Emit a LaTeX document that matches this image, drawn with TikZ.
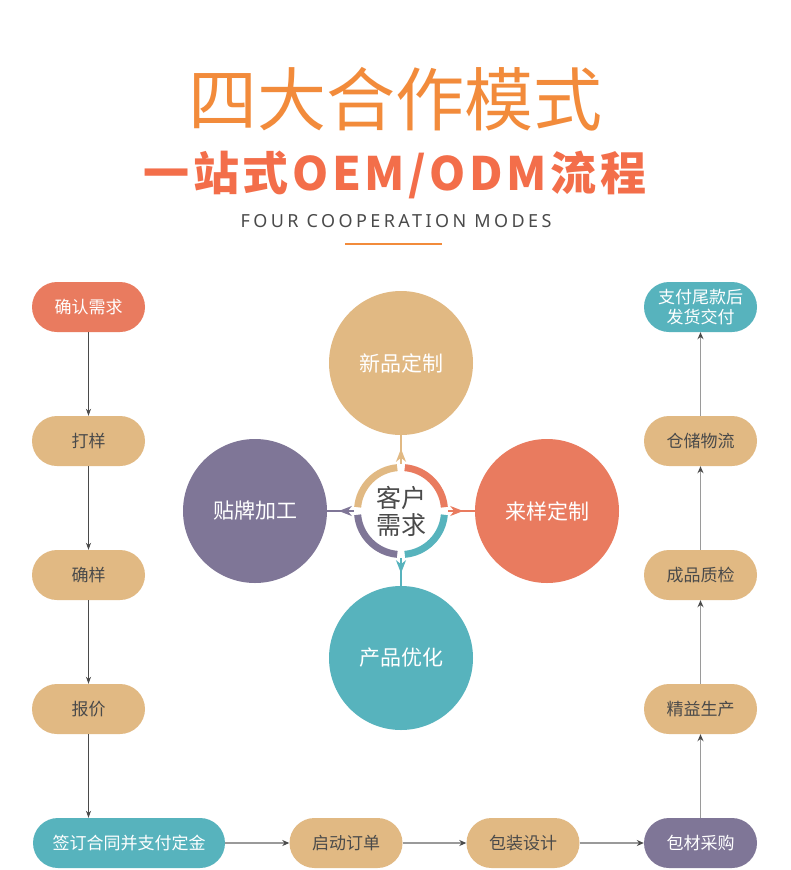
\documentclass[tikz,border=0pt]{standalone}
\usepackage{fontspec}
\setmainfont{Noto Sans CJK SC}
\newfontfamily\enfont[LetterSpace=19]{Noto Sans}
\usetikzlibrary{arrows.meta}

\definecolor{cTitle}{HTML}{F28B3B}
\definecolor{cSub}{HTML}{F36E4A}
\definecolor{cRed}{HTML}{E97B5F}
\definecolor{cTan}{HTML}{E1B983}
\definecolor{cTeal}{HTML}{57B3BD}
\definecolor{cPurple}{HTML}{7F7697}
\definecolor{cText}{HTML}{4A4A4A}
\definecolor{cLine}{HTML}{4A4A4A}
\definecolor{cGray}{HTML}{9A9A9A}

\tikzset{
  pill/.style={rounded corners=25pt, minimum width=113pt, minimum height=50pt,
    inner sep=0pt, align=center, text=cText, font=\fontsize{17}{20}\selectfont},
  mode/.style={circle, minimum size=144pt, inner sep=0pt, text=white,
    font=\fontsize{21}{24}\selectfont},
  flowdown/.style={draw=cLine, line width=0.8pt, -{Stealth[length=7pt,width=5pt]}},
  flowgray/.style={draw=cGray, line width=1.5pt, -{Stealth[length=7pt,width=6pt,color=cLine]}},
  hub/.style={line width=1.5pt, -{Stealth[length=13pt,width=10pt,inset=4pt]}},
}

\begin{document}
\begin{tikzpicture}[x=1pt, y=1pt]
  \useasboundingbox[fill=white] (0,0) rectangle (790,-870);

  % 标题
  \node[text=cTitle, font=\fontsize{69}{70}\selectfont] (t1) at (395,-99) {四大合作模式};
  \node[text=cSub, font=\fontsize{46}{48}\selectfont\bfseries\addfontfeature{LetterSpace=8}] (t2) at (395,-175) {一站式OEM/ODM流程};
  \node[text=cText, font=\enfont\fontsize{18}{20}\selectfont] (t3) at (396,-221) {FOUR COOPERATION MODES};
  \draw[cTitle, line width=2pt] (345,-244) -- (442,-244);

  % 四种模式
  \node[mode, fill=cTan] (xp) at (401,-363) {新品定制};
  \node[mode, fill=cRed] (ly) at (547,-511) {来样定制};
  \node[mode, fill=cTeal] (yh) at (401,-658) {产品优化};
  \node[mode, fill=cPurple] (tp) at (255,-511) {贴牌加工};

  % 中心 客户需求
  \node[circle, minimum size=94pt, inner sep=0pt, align=center, text=cText,
    font=\fontsize{25}{27}\selectfont] (kh) at (401,-511) {客户\\需求};
  \begin{scope}[shift={(kh.center)}]
    \foreach \c/\a in {cRed/5, cTan/95, cPurple/185, cTeal/275}
      \draw[\c, line width=7pt] (\a:43.5) arc[start angle=\a, end angle=\a+80, radius=43.5];
  \end{scope}
  \draw[cTan, line width=1.5pt] (kh.north) -- (xp.south);
  \draw[hub, cTan] (kh.north) -- ++(0,15);
  \draw[cRed, line width=1.5pt] (kh.east) -- (ly.west);
  \draw[hub, cRed] (kh.east) -- ++(15,0);
  \draw[cTeal, line width=1.5pt] (kh.south) -- (yh.north);
  \draw[hub, cTeal] (kh.south) -- ++(0,-15);
  \draw[cPurple, line width=1.5pt] (kh.west) -- (tp.east);
  \draw[hub, cPurple] (kh.west) -- ++(-15,0);

  % 左列
  \node[pill, fill=cRed, text=white] (qr) at (88.5,-307) {确认需求};
  \foreach \n/\y/\t in {dy/441/打样, qy/575/确样, bj/709/报价}
    \node[pill, fill=cTan] (\n) at (88.5,-\y) {\t};

  % 底行
  \node[pill, fill=cTeal, text=white, minimum width=192pt] (qd) at (129,-843) {签订合同并支付定金};
  \node[pill, fill=cTan] (qdd) at (346,-843) {启动订单};
  \node[pill, fill=cTan] (bz) at (523,-843) {包装设计};
  \node[pill, fill=cPurple, text=white] (bc) at (700.5,-843) {包材采购};

  % 右列
  \foreach \n/\y/\t in {js/709/精益生产, cp/575/成品质检, cc/441/仓储物流}
    \node[pill, fill=cTan] (\n) at (700.5,-\y) {\t};
  \node[pill, fill=cTeal, text=white] (zf) at (700.5,-307) {支付尾款后\\发货交付};

  % 流程箭头
  \foreach \a/\b in {qr/dy, dy/qy, qy/bj}
    \draw[flowdown] (\a) -- (\b);
  \draw[flowdown] (bj) -- (bj |- qd.north);
  \foreach \a/\b in {qd/qdd, qdd/bz, bz/bc}
    \draw[flowgray] (\a) -- (\b);
  \foreach \a/\b in {bc/js, js/cp, cp/cc, cc/zf}
    \draw[flowgray, line width=1.2pt] (\a) -- (\b);
\end{tikzpicture}
\end{document}
